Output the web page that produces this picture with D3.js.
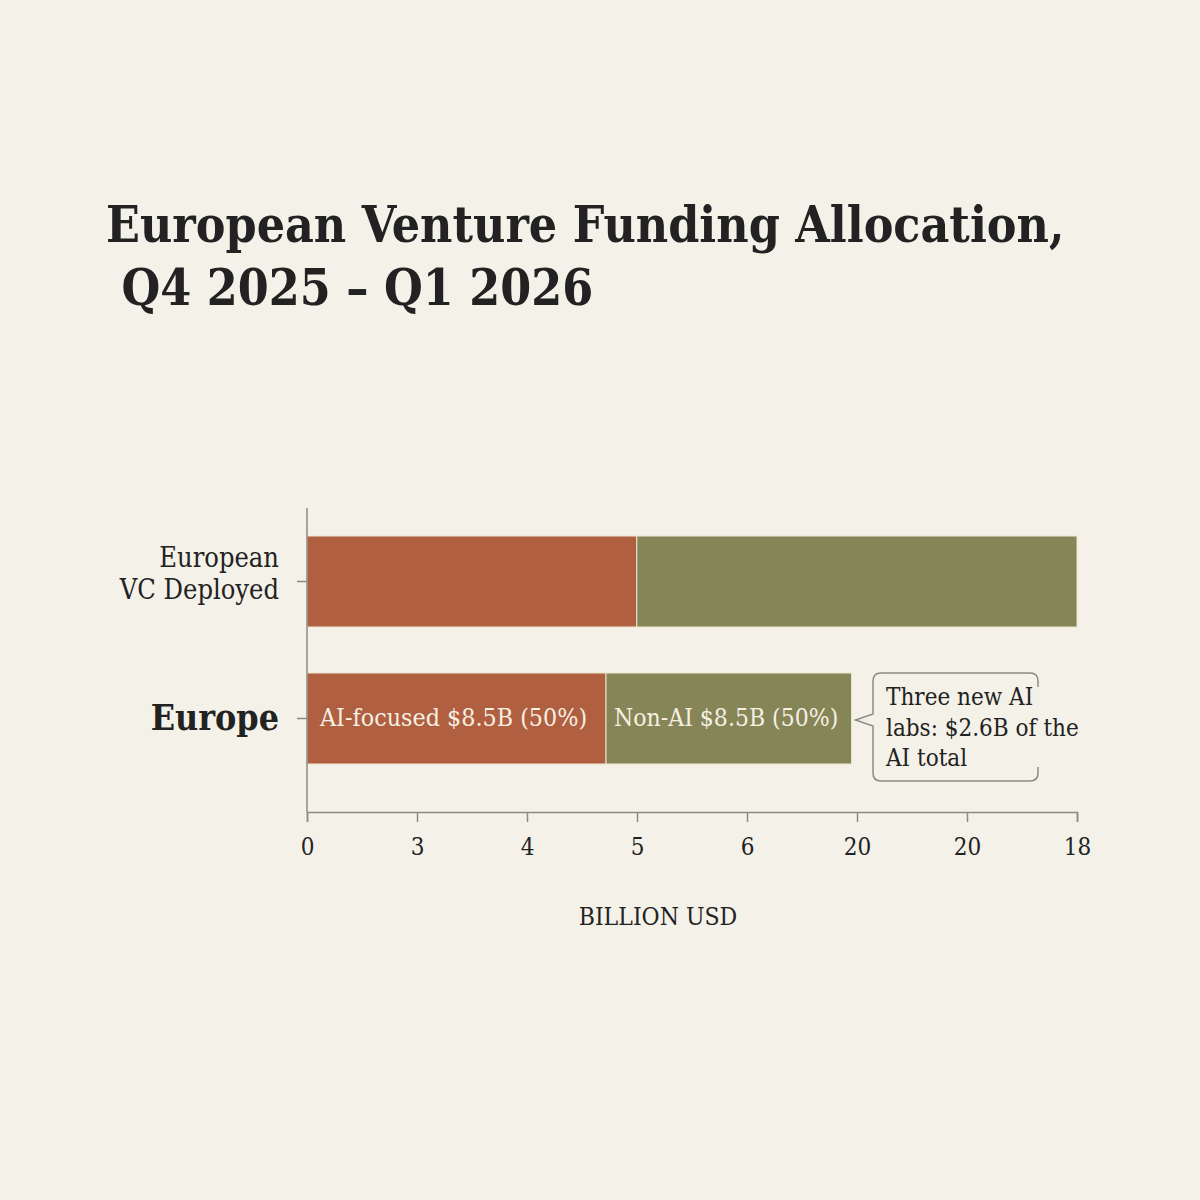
<!DOCTYPE html>
<html>
<head>
<meta charset="utf-8">
<script src="https://cdn.jsdelivr.net/npm/d3@7"></script>
<style>
  html, body { margin: 0; padding: 0; background: #f4f1e8; }
  svg { display: block; }
  text { font-family: "DejaVu Serif Condensed", "DejaVu Serif", serif; font-stretch: condensed; }
</style>
</head>
<body>
<svg id="chart" width="1200" height="1200"></svg>
<script>
// ---- data ----
const categories = ["European VC Deployed", "Europe"];
const categoryLines = [["European", "VC Deployed"], ["Europe"]];
const aiValues = [7.71, 6.99];
const nonAiValues = [10.29, 5.74];
const barLabelsAI = [null, "AI-focused $8.5B (50%)"];
const barLabelsNonAI = [null, "Non-AI $8.5B (50%)"];
const tickLabels = ["0", "3", "4", "5", "6", "20", "20", "18"];
const xMax = 18;
const titleLines = ["European Venture Funding Allocation,", " Q4 2025 \u2013 Q1 2026"];
const annotationLines = ["Three new AI", "labs: $2.6B of the", "AI total"];
const axisTitle = "BILLION USD";

const colors = { ai: "#b05f41", nonAi: "#858558", text: "#222222", axis: "#8c8a84", barText: "#f6f0e2", edge: "#ece5cf" };

const svg = d3.select("#chart");
svg.append("rect").attr("width", 1200).attr("height", 1200).attr("fill", "#f4f1e8");

// title
const title = svg.append("text").attr("font-weight", "bold").attr("fill", colors.text).attr("font-size", 49.5);
title.selectAll("tspan").data(titleLines).join("tspan")
  .attr("x", 106).attr("y", (d, i) => 242 + i * 63)
  .attr("xml:space", "preserve")
  .style("white-space", "pre")
  .text(d => d);

// scales
const x = d3.scaleLinear().domain([0, xMax]).range([307, 1077]);
const y = d3.scaleBand().domain(categories).range([510, 790]).paddingInner(0.336).paddingOuter(0.19);

// bars
const rows = categories.map((c, i) => ({ cat: c, ai: aiValues[i], non: nonAiValues[i], i }));
const g = svg.append("g");
g.selectAll("rect.ai").data(rows).join("rect").attr("class", "ai")
  .attr("x", x(0)).attr("y", d => y(d.cat))
  .attr("width", d => x(d.ai) - x(0)).attr("height", y.bandwidth())
  .attr("fill", colors.ai).attr("stroke", colors.edge).attr("stroke-width", 1);
g.selectAll("rect.non").data(rows).join("rect").attr("class", "non")
  .attr("x", d => x(d.ai)).attr("y", d => y(d.cat))
  .attr("width", d => x(d.ai + d.non) - x(d.ai)).attr("height", y.bandwidth())
  .attr("fill", colors.nonAi).attr("stroke", colors.edge).attr("stroke-width", 1);

// bar labels
g.selectAll("text.lab-ai").data(rows.filter(d => barLabelsAI[d.i])).join("text")
  .attr("x", x(0) + 13).attr("y", d => y(d.cat) + y.bandwidth() / 2 + 8)
  .attr("fill", colors.barText).attr("font-size", 24.8).text(d => barLabelsAI[d.i]);
g.selectAll("text.lab-non").data(rows.filter(d => barLabelsNonAI[d.i])).join("text")
  .attr("x", d => x(d.ai) + 8).attr("y", d => y(d.cat) + y.bandwidth() / 2 + 8)
  .attr("fill", colors.barText).attr("font-size", 24.5).text(d => barLabelsNonAI[d.i]);

// x axis
const tickVals = d3.range(tickLabels.length).map(i => i * xMax / (tickLabels.length - 1));
const xAxis = d3.axisBottom(x).tickValues(tickVals).tickFormat((d, i) => tickLabels[i]).tickSize(10).tickSizeOuter(10).tickPadding(16);
const xg = svg.append("g").attr("transform", "translate(0,812)").call(xAxis);
xg.select(".domain").attr("stroke", colors.axis).attr("stroke-width", 1.5);
xg.selectAll(".tick line").attr("stroke", colors.axis).attr("stroke-width", 1.5);
xg.selectAll(".tick text").attr("fill", colors.text).attr("font-size", 24)
  .attr("font-family", "DejaVu Serif Condensed, DejaVu Serif, serif");

// y axis
const yAxis = d3.axisLeft(y).tickSize(10).tickSizeOuter(0).tickFormat("");
const yg = svg.append("g").attr("transform", "translate(307,0)").call(yAxis);
yg.select(".domain").remove();
yg.selectAll(".tick line").attr("stroke", colors.axis).attr("stroke-width", 1.5);
svg.append("line").attr("x1", 307).attr("x2", 307).attr("y1", 508).attr("y2", 812)
  .attr("stroke", colors.axis).attr("stroke-width", 1.5);

// category labels
categoryLines.forEach((lines, i) => {
  const cy = y(categories[i]) + y.bandwidth() / 2;
  if (lines.length === 2) {
    const t = svg.append("text").attr("text-anchor", "end").attr("fill", colors.text).attr("font-size", 27);
    t.selectAll("tspan").data(lines).join("tspan").attr("x", 279)
      .attr("y", (d, j) => cy - 15 + j * 32).text(d => d);
  } else {
    svg.append("text").attr("text-anchor", "end").attr("fill", colors.text)
      .attr("font-size", 35.5).attr("font-weight", "bold").attr("x", 279).attr("y", cy + 12).text(lines[0]);
  }
});

// axis title
svg.append("text").attr("x", 658).attr("y", 925).attr("text-anchor", "middle")
  .attr("fill", colors.text).attr("font-size", 24.5).text(axisTitle);

// annotation callout
const bx0 = 873, by0 = 673, bx1 = 1038, by1 = 781, r = 8;
const tipX = x(aiValues[1] + nonAiValues[1]) + 1, tipY = 720;
const callout = d3.path();
callout.moveTo(bx1, by0 + 14);
callout.lineTo(bx1, by0 + r);
callout.quadraticCurveTo(bx1, by0, bx1 - r, by0);
callout.lineTo(bx0 + r, by0);
callout.quadraticCurveTo(bx0, by0, bx0, by0 + r);
callout.lineTo(bx0, tipY - 6);
callout.lineTo(tipX + 3, tipY);
callout.lineTo(bx0, tipY + 6);
callout.lineTo(bx0, by1 - r);
callout.quadraticCurveTo(bx0, by1, bx0 + r, by1);
callout.lineTo(bx1 - r, by1);
callout.quadraticCurveTo(bx1, by1, bx1, by1 - r);
callout.lineTo(bx1, by1 - 14);
svg.append("path").attr("d", callout.toString()).attr("fill", "none")
  .attr("stroke", colors.axis).attr("stroke-width", 1.5);
const at = svg.append("text").attr("fill", colors.text).attr("font-size", 24);
at.selectAll("tspan").data(annotationLines).join("tspan").attr("x", 886)
  .attr("y", (d, i) => 705 + i * 30.5).text(d => d);
</script>
</body>
</html>
